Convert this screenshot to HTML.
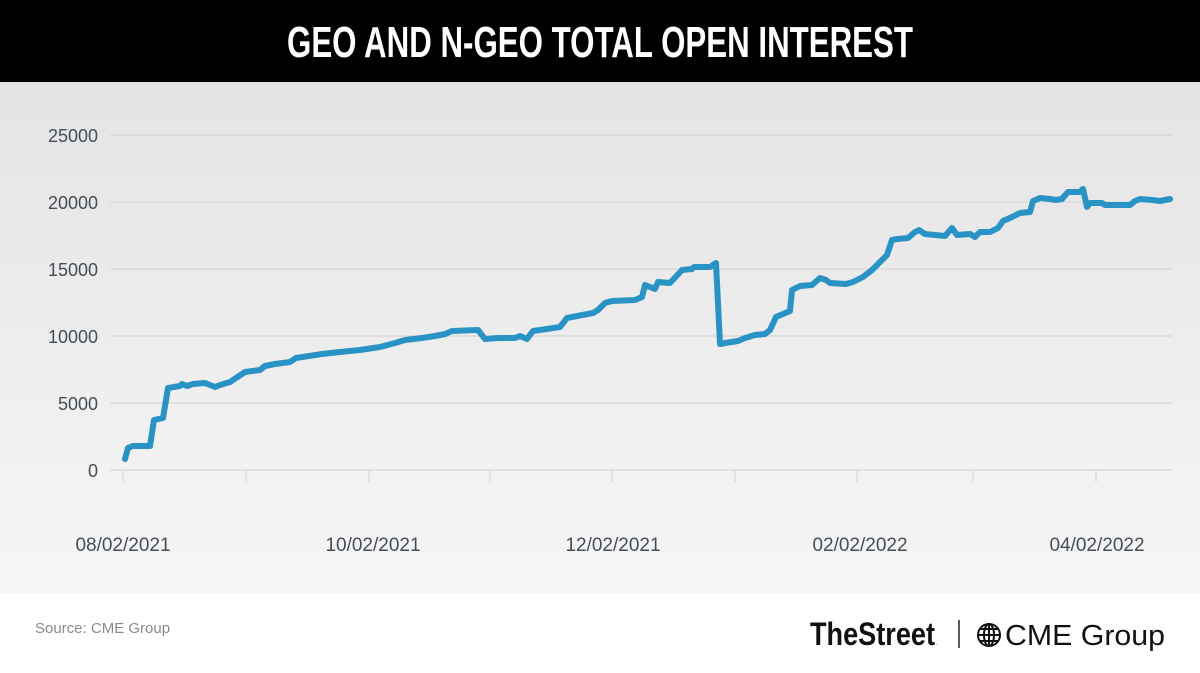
<!DOCTYPE html>
<html><head><meta charset="utf-8"><style>
html,body{margin:0;padding:0;width:1200px;height:673px;overflow:hidden;background:#fff;}
svg{display:block}
</style></head><body>
<svg width="1200" height="673" viewBox="0 0 1200 673" xmlns="http://www.w3.org/2000/svg">
<defs>
<linearGradient id="bg" x1="0" y1="0" x2="0" y2="1">
<stop offset="0" stop-color="#e4e4e4"/><stop offset="1" stop-color="#f6f6f6"/>
</linearGradient>
</defs>
<rect x="0" y="0" width="1200" height="82" fill="#000"/>
<text x="600" y="57" text-anchor="middle" fill="#fff" font-family="Liberation Sans Narrow, Liberation Sans, sans-serif" font-weight="bold" font-size="44" textLength="626" lengthAdjust="spacingAndGlyphs">GEO AND N-GEO TOTAL OPEN INTEREST</text>
<rect x="0" y="82" width="1200" height="511" fill="url(#bg)"/>
<g stroke="#d6d6d6" stroke-width="1.2">
<line x1="110" y1="135" x2="1172" y2="135"/>
<line x1="110" y1="202" x2="1172" y2="202"/>
<line x1="110" y1="269" x2="1172" y2="269"/>
<line x1="110" y1="336" x2="1172" y2="336"/>
<line x1="110" y1="403" x2="1172" y2="403"/>
<line x1="110" y1="470" x2="1172" y2="470"/>
<line x1="123" y1="470" x2="123" y2="482"/><line x1="246" y1="470" x2="246" y2="482"/>
<line x1="369" y1="470" x2="369" y2="482"/><line x1="490" y1="470" x2="490" y2="482"/>
<line x1="612" y1="470" x2="612" y2="482"/><line x1="735" y1="470" x2="735" y2="482"/>
<line x1="857" y1="470" x2="857" y2="482"/><line x1="973" y1="470" x2="973" y2="482"/>
<line x1="1096" y1="470" x2="1096" y2="482"/>
</g>
<g font-family="Liberation Sans, sans-serif" font-size="18" fill="#454d56" text-anchor="end">
<text x="98" y="142">25000</text><text x="98" y="209">20000</text><text x="98" y="276">15000</text>
<text x="98" y="343">10000</text><text x="98" y="410">5000</text><text x="98" y="477">0</text>
</g>
<g font-family="Liberation Sans, sans-serif" font-size="19" fill="#454d56" text-anchor="middle">
<text x="123" y="551">08/02/2021</text><text x="373" y="551">10/02/2021</text>
<text x="613" y="551">12/02/2021</text><text x="860" y="551">02/02/2022</text>
<text x="1097" y="551">04/02/2022</text>
</g>
<polyline fill="none" stroke="#2a93c6" stroke-width="6" stroke-linejoin="round" stroke-linecap="round" points="125,459 128,448 133,446 150,446 154,420 163,418 168,388 180,386 182,384 187,386 193,384 205,383 215,387 220,385 230,382 236,378 245,372 260,370 265,366 275,364 290,362 296,358 322,354 340,352 360,350 380,347 395,343 405,340 422,338 435,336 445,334 452,331 478,330 485,339 498,338 515,338 520,336 527,339 533,331 540,330 560,327 567,318 572,317 593,313 598,310 605,303 612,301 635,300 642,297 645,285 655,289 658,282 670,283 682,270 692,269 694,267 710,267 716,263 720,344 725,343 738,341 745,338 755,335 765,334 770,330 776,317 790,311 792,290 800,286 812,285 820,278 826,280 830,283 846,284 853,282 863,277 872,270 880,262 887,255 892,240 897,239 908,238 915,232 919,230 925,234 945,236 952,228 957,235 970,234 975,237 980,232 990,232 998,228 1003,221 1012,217 1020,213 1030,212 1033,201 1040,198 1050,199 1056,200 1062,199 1068,192 1080,192 1083,189 1087,207 1090,203 1102,203 1105,205 1130,205 1135,201 1140,199 1152,200 1160,201 1170,199"/>
<text x="35" y="633" font-family="Liberation Sans, sans-serif" font-size="15" fill="#8a8a8a">Source: CME Group</text>
<text x="810" y="645" font-family="Liberation Sans Narrow, Liberation Sans, sans-serif" font-weight="bold" font-size="32" fill="#111" textLength="125" lengthAdjust="spacingAndGlyphs">TheStreet</text>
<text x="936" y="645" font-family="Liberation Sans, sans-serif" font-size="6" fill="#111">.</text>
<line x1="959" y1="620" x2="959" y2="648" stroke="#222" stroke-width="1.5"/>
<g transform="translate(989,635)" fill="none" stroke="#111" stroke-width="2">
<circle r="11"/><ellipse rx="5" ry="11"/><line x1="0" y1="-11" x2="0" y2="11"/>
<line x1="-11" y1="0" x2="11" y2="0"/><line x1="-9" y1="-6" x2="9" y2="-6"/><line x1="-9" y1="6" x2="9" y2="6"/>
</g>
<text x="1005" y="645" font-family="Liberation Sans, sans-serif" font-size="29" fill="#111" textLength="160" lengthAdjust="spacingAndGlyphs">CME Group</text>
</svg>
</body></html>
